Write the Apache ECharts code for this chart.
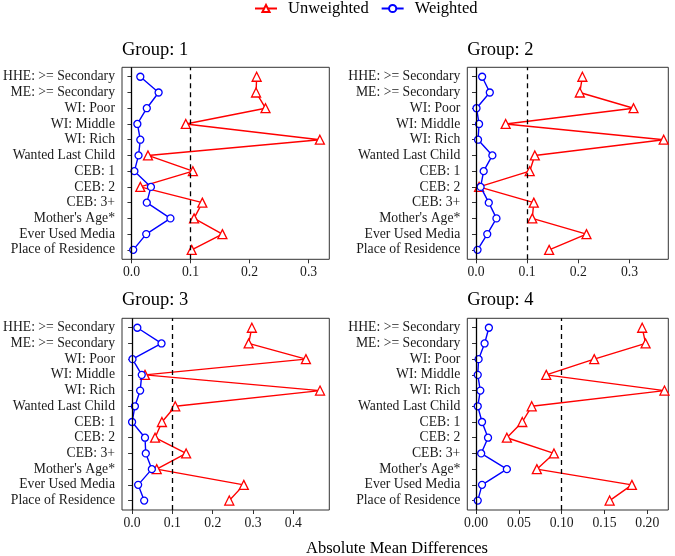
<!DOCTYPE html>
<html>
<head>
<meta charset="utf-8">
<script src="https://cdn.jsdelivr.net/npm/echarts@6/dist/echarts.min.js"></script>
<style>
  html, body { margin: 0; padding: 0; background: #fff; }
  #chart { width: 675px; height: 556px; }
</style>
</head>
<body>
<div id="chart"></div>
<script>
const categories = [
  'HHE: >= Secondary', 'ME: >= Secondary', 'WI: Poor', 'WI: Middle', 'WI: Rich',
  'Wanted Last Child', 'CEB: 1', 'CEB: 2', 'CEB: 3+', "Mother's Age*",
  'Ever Used Media', 'Place of Residence'
];
const groupNames = ['Group: 1', 'Group: 2', 'Group: 3', 'Group: 4'];

const unweighted1 = [0.212, 0.211, 0.227, 0.092, 0.319, 0.028, 0.104, 0.015, 0.120, 0.106, 0.154, 0.102];
const weighted1   = [0.015, 0.046, 0.026, 0.010, 0.015, 0.012, 0.005, 0.033, 0.026, 0.066, 0.025, 0.003];
const unweighted2 = [0.208, 0.203, 0.308, 0.058, 0.367, 0.115, 0.105, 0.006, 0.113, 0.110, 0.216, 0.143];
const weighted2   = [0.012, 0.027, 0.001, 0.006, 0.004, 0.032, 0.015, 0.009, 0.025, 0.040, 0.022, 0.003];
const unweighted3 = [0.297, 0.289, 0.431, 0.032, 0.466, 0.107, 0.074, 0.057, 0.134, 0.061, 0.277, 0.241];
const weighted3   = [0.013, 0.073, 0.001, 0.024, 0.020, 0.007, 0.000, 0.032, 0.034, 0.049, 0.015, 0.030];
const unweighted4 = [0.194, 0.198, 0.138, 0.082, 0.220, 0.065, 0.054, 0.036, 0.091, 0.071, 0.182, 0.156];
const weighted4   = [0.015, 0.010, 0.003, 0.002, 0.005, 0.002, 0.007, 0.014, 0.006, 0.036, 0.007, 0.002];

const xTicks1 = [0, 0.1, 0.2, 0.3];
const xTicks2 = [0, 0.1, 0.2, 0.3];
const xTicks3 = [0, 0.1, 0.2, 0.3, 0.4];
const xTicks4 = [0, 0.05, 0.1, 0.15, 0.2];
const refLines = [0, 0.1];

const unweighted = [unweighted1, unweighted2, unweighted3, unweighted4];
const weighted = [weighted1, weighted2, weighted3, weighted4];
const xTicks = [xTicks1, xTicks2, xTicks3, xTicks4];

// panel boxes and x ranges (ggplot-style expansion)
const panels = [
  { l: 122, t: 67.3, w: 207.3, h: 192, min: -0.016, max: 0.335, dec: 1, ty: 50 },
  { l: 467.3, t: 67.3, w: 201, h: 192, min: -0.017, max: 0.376, dec: 1, ty: 50 },
  { l: 122, t: 318.3, w: 207.3, h: 191.7, min: -0.025, max: 0.489, dec: 1, ty: 300 },
  { l: 467.3, t: 318.3, w: 201, h: 191.7, min: -0.0102, max: 0.2245, dec: 2, ty: 300 }
];

const FONT = 'Liberation Serif';
const grid = [], xAxis = [], yAxis = [], series = [], graphic = [];

panels.forEach((p, i) => {
  const fi = i * 2, di = i * 2 + 1;
  // discrete axis: 0.6 units of padding on each side, 12 categories
  const unit = p.h / 12.2;
  grid.push({ left: p.l, top: p.t, width: p.w, height: p.h, show: true,
    borderColor: '#333', borderWidth: 1, backgroundColor: 'transparent' });
  grid.push({ left: p.l, top: p.t + unit * 0.6, width: p.w, height: unit * 11, show: false });

  xAxis.push({
    type: 'value', gridIndex: fi, min: p.min, max: p.max,
    axisLine: { show: false }, splitLine: { show: false },
    axisTick: { show: true, length: 4, customValues: xTicks[i], lineStyle: { color: '#333' } },
    axisLabel: { customValues: xTicks[i], margin: 6, fontFamily: FONT, fontSize: 13.7, color: '#1a1a1a',
      formatter: v => v.toFixed(p.dec) }
  });
  yAxis.push({ type: 'value', gridIndex: fi, min: 0, max: 1, show: false });

  xAxis.push({ type: 'value', gridIndex: di, min: p.min, max: p.max, show: false });
  yAxis.push({
    type: 'category', gridIndex: di, data: categories, inverse: true, boundaryGap: false,
    axisLine: { show: false }, splitLine: { show: false },
    axisTick: { show: true, length: 4, interval: 0, lineStyle: { color: '#333' } },
    axisLabel: { interval: 0, margin: 7, fontFamily: FONT, fontSize: 13.7, color: '#1a1a1a' }
  });

  series.push({
    type: 'line', xAxisIndex: fi, yAxisIndex: fi, data: [], silent: true,
    markLine: {
      silent: true, symbol: 'none', label: { show: false }, animation: false,
      data: [
        { xAxis: refLines[0], lineStyle: { type: 'solid', color: '#000', width: 1.3 } },
        { xAxis: refLines[1], lineStyle: { type: [5, 4], color: '#000', width: 1.3 } }
      ]
    }
  });
  series.push({
    name: 'Unweighted', type: 'line', xAxisIndex: di, yAxisIndex: di,
    data: unweighted[i].map((v, j) => [v, categories[j]]),
    color: '#ff0000', symbol: 'triangle', symbolSize: 9, showAllSymbol: true,
    lineStyle: { color: '#ff0000', width: 1.4 },
    itemStyle: { color: '#fff', borderColor: '#ff0000', borderWidth: 1.3 },
    z: 3, animation: false
  });
  series.push({
    name: 'Weighted', type: 'line', xAxisIndex: di, yAxisIndex: di,
    data: weighted[i].map((v, j) => [v, categories[j]]),
    color: '#0000ff', symbol: 'circle', symbolSize: 7, showAllSymbol: true,
    lineStyle: { color: '#0000ff', width: 1.4 },
    itemStyle: { color: '#fff', borderColor: '#0000ff', borderWidth: 1.3 },
    z: 4, animation: false
  });

  // title left-aligned with the panel
  graphic.push({ type: 'text', x: p.l, y: p.ty,
    style: { text: groupNames[i], font: '18.5px "Liberation Serif"', fill: '#000',
      textAlign: 'left', textVerticalAlign: 'middle' } });
});

// shared x axis title, centred on the panel area
graphic.push({ type: 'text', x: 397, y: 549,
  style: { text: 'Absolute Mean Differences', font: '16.5px "Liberation Serif"', fill: '#000',
    textAlign: 'center', textVerticalAlign: 'middle' } });

const chart = echarts.init(document.getElementById('chart'), null, { renderer: 'canvas' });
chart.setOption({
  backgroundColor: '#fff',
  animation: false,
  legend: {
    data: ['Unweighted', 'Weighted'], top: 0, left: 254, padding: 0,
    itemWidth: 22, itemHeight: 9, itemGap: 12,
    textStyle: { fontFamily: FONT, fontSize: 16.5, color: '#000', padding: [0, 0, 0, 6] }
  },
  grid, xAxis, yAxis, series, graphic
});
</script>
</body>
</html>
